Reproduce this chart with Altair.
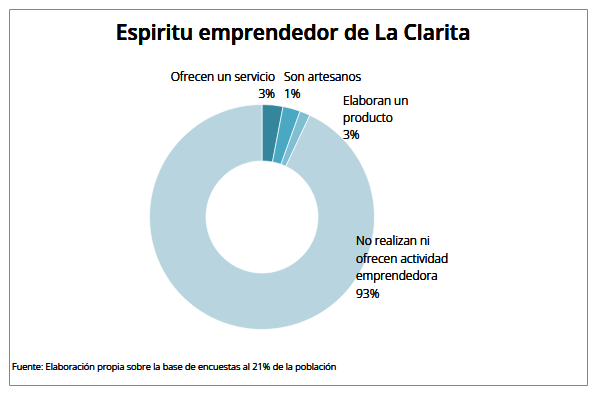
import altair as alt
import pandas as pd

# ---- data ----
categories = [
    "Ofrecen un servicio",
    "Son artesanos",
    "Elaboran un producto",
    "No realizan ni ofrecen actividad emprendedora",
]
values = [3.0, 2.5, 1.5, 93.0]          # slice sizes as drawn
pct_labels = ["3%", "1%", "3%", "93%"]  # percentages as printed
colors = ["#33869B", "#4BA8C2", "#80BFD3", "#B8D5DF"]

title_text = "Espiritu emprendedor de La Clarita"
source_text = "Fuente: Elaboración propia sobre la base de encuestas al 21%  de la población"

df = pd.DataFrame({"cat": categories, "val": values, "ord": list(range(len(categories)))})

FONT = "Open Sans"
W, H = 578, 376
CX, CY = 253, 208

donut = alt.Chart(df).mark_arc(
    innerRadius=56, outerRadius=112.5, stroke="#ffffff", strokeWidth=0.7
).encode(
    theta=alt.Theta("val:Q", stack=True),
    color=alt.Color("cat:N", scale=alt.Scale(domain=categories, range=colors), legend=None),
    order=alt.Order("ord:Q"),
    x=alt.value(CX),
    y=alt.value(CY),
)

def label(lines, x, y, align, lh=17):
    return alt.Chart(df).mark_text(
        font=FONT, fontSize=12, fontWeight=300, color="#000000", align=align,
        baseline="alphabetic", lineHeight=lh,
    ).encode(x=alt.value(x), y=alt.value(y), text=alt.value(lines))

lab0 = label([categories[0], pct_labels[0]], 266, 71.5, "right")
lab1 = label(["Son artesanos", pct_labels[1]], 275, 71.5, "left")
lab2 = label(["Elaboran un", "producto", pct_labels[2]], 334, 96, "left")
lab3 = label(["No realizan ni", "ofrecen actividad", "emprendedora", pct_labels[3]], 347, 236, "left", 17.5)

title = alt.Chart(df).mark_text(
    font=FONT, fontSize=21, fontWeight=600, color="#000000", align="center",
    baseline="alphabetic",
).encode(x=alt.value(284), y=alt.value(31), text=alt.value(title_text))

source = alt.Chart(df).mark_text(
    font=FONT, fontSize=9.3, fontWeight=300, color="#000000", align="left",
    baseline="alphabetic",
).encode(x=alt.value(3), y=alt.value(361), text=alt.value(source_text))

chart = alt.layer(donut, lab0, lab1, lab2, lab3, title, source).properties(
    width=W, height=H, padding=1, autosize=alt.AutoSizeParams(type="none"),
    background="#ffffff",
).configure_view(stroke="#868686", strokeWidth=1)

chart.save("out.html", embed_options={"renderer": "svg", "actions": False})
